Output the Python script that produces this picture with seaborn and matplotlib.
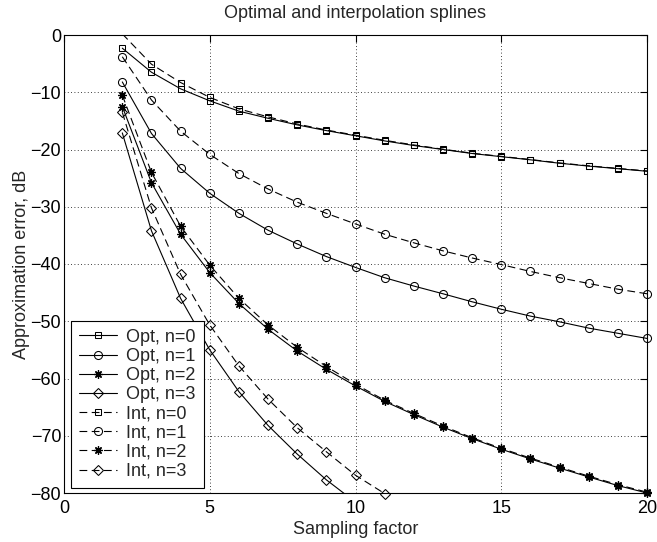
import numpy as np
import pandas as pd
import matplotlib
matplotlib.use("Agg")
import matplotlib.pyplot as plt
import seaborn as sns

# ---- data ----
x_full = list(range(2, 21))
opt0 = [-2.3, -6.5, -9.4, -11.5, -13.3, -14.55, -15.7, -16.7, -17.6, -18.5,
        -19.3, -20.0, -20.7, -21.25, -21.8, -22.4, -22.9, -23.35, -23.8]
opt1 = [-8.2, -17.2, -23.3, -27.65, -31.15, -34.1, -36.5, -38.7, -40.6, -42.4,
        -43.85, -45.2, -46.6, -47.9, -49.1, -50.1, -51.2, -52.1, -53.0]
opt2 = [-12.5, -25.8, -34.8, -41.5, -46.9, -51.4, -55.2, -58.4, -61.3, -64.0,
        -66.3, -68.5, -70.5, -72.35, -74.05, -75.65, -77.2, -78.7, -80.0]
x_opt3 = list(range(2, 11))
opt3 = [-17.1, -34.2, -46.0, -55.0, -62.3, -68.2, -73.2, -77.7, -81.6]

int0 = [0.2, -5.1, -8.3, -10.9, -12.9, -14.3, -15.55, -16.6, -17.5, -18.4,
        -19.2, -19.95, -20.65, -21.2, -21.75, -22.35, -22.85, -23.3, -23.75]
int1 = [-3.8, -11.35, -16.8, -20.85, -24.2, -26.9, -29.2, -31.15, -33.0, -34.8,
        -36.3, -37.7, -38.95, -40.1, -41.3, -42.4, -43.4, -44.4, -45.2]
int2 = [-10.5, -24.0, -33.4, -40.2, -46.0, -50.65, -54.55, -57.9, -61.0, -63.8,
        -66.1, -68.3, -70.35, -72.2, -73.9, -75.5, -77.05, -78.55, -79.85]
x_int3 = list(range(2, 12))
int3 = [-13.5, -30.2, -41.8, -50.65, -57.8, -63.6, -68.6, -72.8, -76.9, -80.1]

labels = ["Opt, n=0", "Opt, n=1", "Opt, n=2", "Opt, n=3",
          "Int, n=0", "Int, n=1", "Int, n=2", "Int, n=3"]
x_ticks = [0, 5, 10, 15, 20]
y_ticks = [0, -10, -20, -30, -40, -50, -60, -70, -80]

# ---- style ----
sns.set_style("white")
plt.rcParams["font.family"] = ["Liberation Sans", "DejaVu Sans"]
plt.rcParams["axes.unicode_minus"] = True

fig = plt.figure(figsize=(6.57, 5.42), dpi=100)
ax = fig.add_axes([64/657, 1-493/542, 583/657, 458/542])

asterisk = (8, 2, 0)
markers = ["s", "o", asterisk, "D"]
msizes = [4.8, 5.8, 6.0, 4.6]
mews = [0.75, 0.75, 0.9, 0.75]
dash = (0, (7, 4))

series = [
    (x_full, opt0, 0, "-", True, None),
    (x_full, opt1, 1, "-", False, None),
    (x_full, opt2, 2, "-", False, None),
    (x_opt3, opt3, 3, "-", True, None),
    (x_full, int0, 0, dash, True, list(range(1, len(int0)))),
    (x_full, int1, 1, dash, False, None),
    (x_full, int2, 2, dash, False, None),
    (x_int3, int3, 3, dash, False, None),
]

for (xs, ys, n, ls, clip, mev), lab in zip(series, labels):
    df = pd.DataFrame({"x": xs, "y": ys})
    kws = dict(color="k", linewidth=0.8, linestyle=ls, marker=markers[n],
               markersize=msizes[n], markerfacecolor="none",
               markeredgecolor="k", markeredgewidth=mews[n], clip_on=clip)
    if mev is not None:
        kws["markevery"] = mev
    sns.lineplot(data=df, x="x", y="y", ax=ax, label=lab, legend=False,
                 sort=False, estimator=None, **kws)

ax.set_xlim(0, 20)
ax.set_ylim(-80, 0)
ax.set_xticks(x_ticks)
ax.set_yticks(y_ticks)
ax.grid(True, linestyle=(0, (1, 3)), color="k", linewidth=0.6)
ax.tick_params(direction="in", top=True, right=True, length=5, width=0.8,
               labelsize=13, colors="k")
ax.tick_params(axis="x", pad=5)
ax.tick_params(axis="y", pad=2)
for sp in ax.spines.values():
    sp.set_color("k")
    sp.set_linewidth(0.8)

ax.set_title("Optimal and interpolation splines", fontsize=13, pad=12)
ax.set_xlabel("Sampling factor", fontsize=13, labelpad=3)
ax.set_ylabel("Approximation error, dB", fontsize=13, labelpad=0)

leg = ax.legend(loc="lower left", bbox_to_anchor=(7/583, 5/458),
                borderaxespad=0, fontsize=13, frameon=True, fancybox=False,
                framealpha=1, edgecolor="k", labelspacing=0.12,
                borderpad=0.45, handlelength=2.1, handletextpad=0.5,
                numpoints=1)
leg.get_frame().set_linewidth(0.8)

fig.savefig("out.png", dpi=100)
